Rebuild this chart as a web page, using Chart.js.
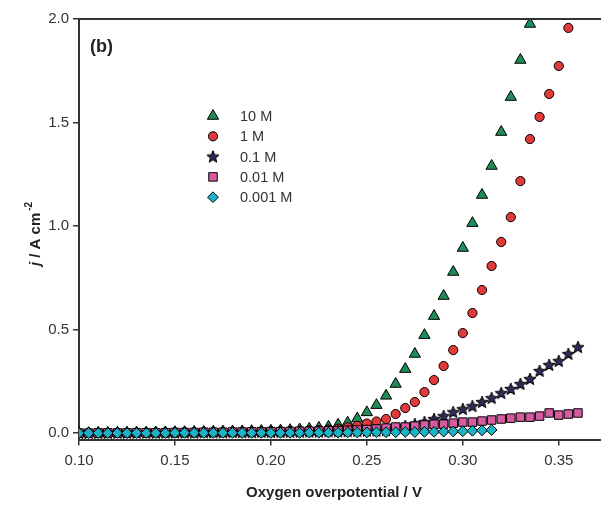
<!DOCTYPE html>
<html>
<head>
<meta charset="utf-8">
<script src="https://cdn.jsdelivr.net/npm/chart.js@4"></script>
<style>
  html, body { margin: 0; padding: 0; background: #fff; }
  #wrap { width: 601px; height: 508px; }
</style>
</head>
<body>
<div id="wrap"><canvas id="chart" width="601" height="508"></canvas></div>
<script>
// Oxygen overpotential (V), one point every 5 mV
const potential = [
  0.100, 0.105, 0.110, 0.115, 0.120, 0.125, 0.130, 0.135, 0.140, 0.145, 0.150,
  0.155, 0.160, 0.165, 0.170, 0.175, 0.180, 0.185, 0.190, 0.195, 0.200,
  0.205, 0.210, 0.215, 0.220, 0.225, 0.230, 0.235, 0.240, 0.245, 0.250, 0.255,
  0.260, 0.265, 0.270, 0.275, 0.280, 0.285, 0.290, 0.295, 0.300, 0.305, 0.310,
  0.315, 0.320, 0.325, 0.330, 0.335, 0.340, 0.345, 0.350, 0.355, 0.360
];

// current density j (A cm-2) per concentration
const j10M = [
  0.000, 0.000, 0.001, 0.001, 0.001, 0.002, 0.002, 0.002, 0.003, 0.003, 0.004,
  0.004, 0.005, 0.005, 0.006, 0.007, 0.007, 0.008, 0.009, 0.010, 0.011,
  0.012, 0.014, 0.017, 0.020, 0.025, 0.030, 0.040, 0.050, 0.070,
  0.100, 0.135, 0.180, 0.237, 0.309, 0.382, 0.473, 0.565, 0.662, 0.778,
  0.894, 1.014, 1.150, 1.290, 1.454, 1.623, 1.802, 1.976
];
const j1M = [
  0.000, 0.000, 0.000, 0.001, 0.001, 0.001, 0.001, 0.002, 0.002, 0.002, 0.003,
  0.003, 0.003, 0.004, 0.004, 0.005, 0.005, 0.006, 0.006, 0.007, 0.008,
  0.008, 0.009, 0.010, 0.012, 0.014, 0.017, 0.021, 0.028, 0.035, 0.046, 0.056,
  0.068, 0.092, 0.121, 0.150, 0.198, 0.256, 0.324, 0.401, 0.483, 0.580,
  0.691, 0.807, 0.923, 1.043, 1.217, 1.420, 1.527, 1.638, 1.773, 1.957
];
const j01M = [
  0.000, 0.000, 0.000, 0.000, 0.001, 0.001, 0.001, 0.001, 0.001, 0.002, 0.002,
  0.002, 0.002, 0.003, 0.003, 0.003, 0.004, 0.004, 0.004, 0.005, 0.005,
  0.005, 0.006, 0.006, 0.007, 0.007, 0.008, 0.008, 0.009, 0.010, 0.011, 0.012,
  0.014, 0.024, 0.034, 0.043, 0.053, 0.068, 0.082, 0.101, 0.116, 0.130, 0.150,
  0.169, 0.193, 0.213, 0.237, 0.261, 0.300, 0.329, 0.348, 0.382, 0.415
];
const j001M = [
  0.000, 0.000, 0.001, 0.001, 0.001, 0.001, 0.002, 0.002, 0.002, 0.002, 0.003,
  0.003, 0.003, 0.004, 0.004, 0.004, 0.005, 0.005, 0.006, 0.006, 0.007,
  0.007, 0.008, 0.009, 0.009, 0.010, 0.011, 0.012, 0.013, 0.015, 0.017, 0.020,
  0.024, 0.029, 0.029, 0.034, 0.039, 0.043, 0.043, 0.048, 0.053, 0.053, 0.058,
  0.063, 0.068, 0.072, 0.077, 0.077, 0.082, 0.097, 0.087, 0.092, 0.097
];
const j0001M = [
  0.000, 0.000, 0.000, 0.000, 0.000, 0.000, 0.000, 0.000, 0.000, 0.000, 0.001,
  0.001, 0.001, 0.001, 0.001, 0.001, 0.001, 0.001, 0.001, 0.001, 0.001,
  0.001, 0.001, 0.001, 0.002, 0.002, 0.002, 0.002, 0.003, 0.003, 0.003, 0.004,
  0.004, 0.004, 0.005, 0.005, 0.006, 0.006, 0.007, 0.008, 0.009, 0.011, 0.013,
  0.015
];

const seriesLabels = ['10 M', '1 M', '0.1 M', '0.01 M', '0.001 M'];
const xTicks = [0.10, 0.15, 0.20, 0.25, 0.30, 0.35];
const yTicks = [0.0, 0.5, 1.0, 1.5, 2.0];

const FONT = '"Liberation Sans", Arial, sans-serif';
const AXIS = '#333333';

// filled five-point star (Chart.js 'star' is only lines)
function makeStar(fill) {
  const c = document.createElement('canvas');
  c.width = 14; c.height = 14;
  const g = c.getContext('2d');
  g.beginPath();
  for (let k = 0; k < 10; k++) {
    const r = k % 2 === 0 ? 6.4 : 2.8;
    const a = -Math.PI / 2 + k * Math.PI / 5;
    const px = 7 + r * Math.cos(a), py = 7.4 + r * Math.sin(a);
    k === 0 ? g.moveTo(px, py) : g.lineTo(px, py);
  }
  g.closePath();
  g.fillStyle = fill;
  g.fill();
  g.lineWidth = 1;
  g.strokeStyle = '#000';
  g.stroke();
  return c;
}
const starImg = makeStar('#2c2b52');

function pts(ys) {
  return ys.map((y, i) => ({ x: potential[i], y: y }));
}

const datasets = [
  { label: seriesLabels[0], data: pts(j10M), pointStyle: 'triangle', pointRadius: 6.5, backgroundColor: '#1f8b57', order: 5 },
  { label: seriesLabels[1], data: pts(j1M), pointStyle: 'circle', pointRadius: 4.6, backgroundColor: '#e23a3a', order: 4 },
  { label: seriesLabels[2], data: pts(j01M), pointStyle: starImg, pointRadius: 6, backgroundColor: '#2c2b52', order: 3 },
  { label: seriesLabels[3], data: pts(j001M), pointStyle: 'rect', pointRadius: 6, backgroundColor: '#d65ba0', order: 2 },
  { label: seriesLabels[4], data: pts(j0001M), pointStyle: 'rectRot', pointRadius: 5.4, backgroundColor: '#1cb3c6', order: 1 }
].map(d => Object.assign(d, {
  showLine: false,
  borderColor: '#000',
  borderWidth: 1,
  pointBorderWidth: 1,
  pointHoverRadius: d.pointRadius
}));

const decorations = {
  id: 'decorations',
  afterDraw(chart) {
    const ctx = chart.ctx;
    const a = chart.chartArea;
    ctx.save();
    // top frame line
    ctx.strokeStyle = AXIS;
    ctx.lineWidth = 2;
    ctx.beginPath();
    ctx.moveTo(a.left - 1, a.top);
    ctx.lineTo(chart.width, a.top);
    ctx.stroke();

    // panel letter
    ctx.fillStyle = '#222';
    ctx.font = 'bold 18px ' + FONT;
    ctx.textBaseline = 'middle';
    ctx.textAlign = 'left';
    ctx.fillText('(b)', 90, 47);

    // legend
    ctx.font = '14.5px ' + FONT;
    chart.data.datasets.forEach((ds, i) => {
      const y = 116 + i * 20.3;
      ctx.fillStyle = ds.backgroundColor;
      ctx.strokeStyle = '#000';
      ctx.lineWidth = 1;
      Chart.helpers.drawPoint(ctx, {
        pointStyle: ds.pointStyle, radius: ds.pointRadius, rotation: 0, borderWidth: 1
      }, 213, y);
      ctx.fillStyle = '#333';
      ctx.fillText(ds.label, 240, y + 1);
    });

    // x title
    ctx.fillStyle = '#222';
    ctx.font = 'bold 15px ' + FONT;
    ctx.textAlign = 'center';
    ctx.fillText('Oxygen overpotential / V', 334, 493);

    // y title: j / A cm^-2
    ctx.translate(36, 234);
    ctx.rotate(-Math.PI / 2);
    const fj = 'italic bold 15px ' + FONT;
    const fm = 'bold 15px ' + FONT;
    const fs = 'bold 10px ' + FONT;
    ctx.font = fj; const wj = ctx.measureText('j').width;
    ctx.font = fm; const wm = ctx.measureText(' / A cm').width;
    ctx.font = fs; const ws = ctx.measureText('-2').width;
    let x0 = -(wj + wm + ws + 2) / 2;
    ctx.textAlign = 'left';
    ctx.font = fj; ctx.fillText('j', x0, 0); x0 += wj;
    ctx.font = fm; ctx.fillText(' / A cm', x0, 0); x0 += wm + 2;
    ctx.font = fs; ctx.fillText('-2', x0, -7);
    ctx.restore();
  }
};

new Chart(document.getElementById('chart'), {
  type: 'scatter',
  data: { datasets: datasets },
  options: {
    responsive: false,
    animation: false,
    layout: { autoPadding: false, padding: { top: 19, right: 0, left: 0, bottom: 0 } },
    plugins: { legend: { display: false }, tooltip: { enabled: false } },
    scales: {
      x: {
        type: 'linear',
        min: 0.10,
        max: 0.372,
        afterBuildTicks: s => { s.ticks = xTicks.map(v => ({ value: v })); },
        afterFit: s => { s.height = 68.5; },
        ticks: {
          callback: v => v.toFixed(2),
          color: '#333',
          font: { family: FONT, size: 15 },
          padding: 6,
          maxRotation: 0
        },
        grid: { display: true, drawOnChartArea: false, drawTicks: true, tickLength: 6, color: AXIS, lineWidth: 1.5 },
        border: { display: true, color: AXIS, width: 2 }
      },
      y: {
        type: 'linear',
        min: -0.031,
        max: 2.0,
        afterBuildTicks: s => { s.ticks = yTicks.map(v => ({ value: v })); },
        afterFit: s => { s.width = 79; },
        ticks: {
          callback: v => v.toFixed(1),
          color: '#333',
          font: { family: FONT, size: 15 },
          padding: 4
        },
        grid: { display: true, drawOnChartArea: false, drawTicks: true, tickLength: 6, color: AXIS, lineWidth: 1.5 },
        border: { display: true, color: AXIS, width: 2 }
      }
    }
  },
  plugins: [decorations]
});
</script>
</body>
</html>
